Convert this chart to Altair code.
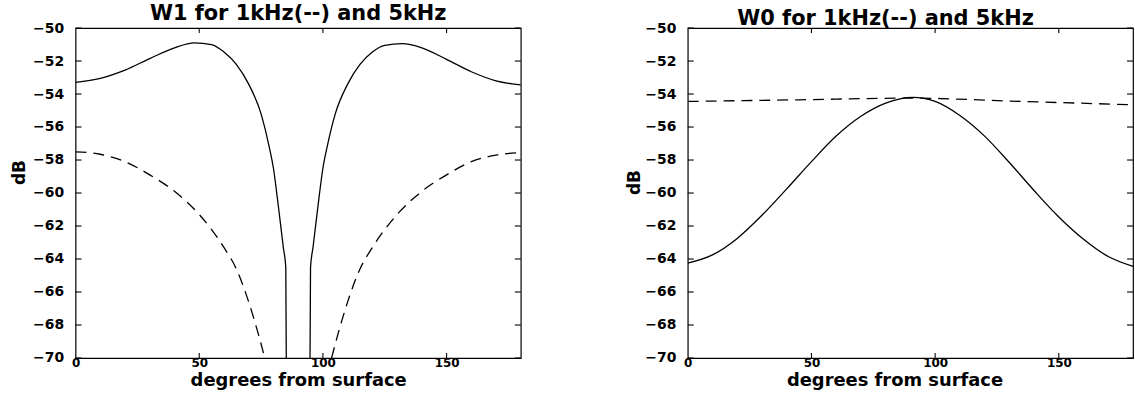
import altair as alt
import pandas as pd

# ---------------- data ----------------
# Left panel: W1
w1_5k_left_deg = [0, 10, 20, 30, 40, 48, 55, 60, 65, 70, 75, 78, 80, 82, 84, 85, 85.2]
w1_5k_left_db = [-53.3, -53.05, -52.55, -51.85, -51.2, -50.9, -51.0, -51.45, -52.2, -53.4,
                 -55.2, -57.0, -58.5, -60.8, -63.3, -64.5, -70]
w1_5k_right_deg = [94.8, 95, 96, 98, 100, 102, 105, 110, 115, 120, 125, 132, 140, 150, 160, 170, 180]
w1_5k_right_db = [-70, -64.5, -63.3, -60.8, -58.5, -57.0, -55.2, -53.4, -52.2, -51.45, -51.05,
                  -50.95, -51.2, -51.9, -52.65, -53.2, -53.45]

w1_1k_left_deg = [0, 10, 20, 30, 40, 50, 60, 65, 70, 74, 76.5]
w1_1k_left_db = [-57.5, -57.65, -58.1, -58.9, -59.9, -61.3, -63.3, -64.6, -66.6, -68.6, -70]
w1_1k_right_deg = [103.5, 106, 110, 115, 120, 130, 140, 150, 160, 170, 180]
w1_1k_right_db = [-70, -68.6, -66.6, -64.6, -63.3, -61.3, -59.9, -58.9, -58.1, -57.7, -57.55]

# Right panel: W0
w0_5k_deg = [0, 10, 20, 30, 40, 50, 60, 70, 80, 91, 100, 110, 120, 130, 140, 150, 160, 170, 180]
w0_5k_db = [-64.25, -63.75, -62.75, -61.35, -59.75, -58.1, -56.55, -55.35, -54.55, -54.2, -54.45,
            -55.3, -56.55, -58.15, -59.85, -61.45, -62.8, -63.85, -64.45]
w0_1k_deg = [0, 45, 90, 135, 180]
w0_1k_db = [-54.45, -54.35, -54.25, -54.45, -54.65]

x_label_values = [0, 50, 100, 150]
x_tick_values = [50, 100, 150]
y_tick_values = [-70, -68, -66, -64, -62, -60, -58, -56, -54, -52, -50]

title_left = "W1 for 1kHz(--) and 5kHz"
title_right = "W0 for 1kHz(--) and 5kHz"
x_title = "degrees from surface"
y_title = "dB"

# ---------------- styling ----------------
W, H = 448, 332
FONT = "DejaVu Sans"
xs = alt.Scale(domain=[0, 180], nice=False, zero=False)
ys = alt.Scale(domain=[-70, -50], nice=False, zero=False)


def seg_df(pairs):
    rows = []
    for s, (dx, dy) in enumerate(pairs):
        for i, (a, b) in enumerate(zip(dx, dy)):
            rows.append({"deg": a, "db": b, "seg": s, "i": i})
    return pd.DataFrame(rows)


def panel(solid_pairs, dashed_pairs, title_text, title_cx, title_cy, xtitle_x, ytitle_x, ytitle_y):
    xax = alt.Axis(values=x_label_values, title=x_title, ticks=False, domain=False, grid=False,
                   labelPadding=0, labelFont=FONT, labelFontSize=12, labelFontWeight="bold",
                   labelFlush=False, labelColor="black",
                   titleFont=FONT, titleFontSize=18, titleFontWeight="bold", titlePadding=3,
                   titleColor="black", titleX=xtitle_x)
    yax = alt.Axis(values=y_tick_values, title=y_title, ticks=False, domain=False, grid=False,
                   labelPadding=12, labelFont=FONT, labelFontSize=14, labelFontWeight="bold",
                   labelFlush=False, labelColor="black",
                   titleFont=FONT, titleFontSize=17, titleFontWeight="bold", titleColor="black",
                   titleAngle=270, titleAlign="center", titleBaseline="middle",
                   titleX=ytitle_x, titleY=ytitle_y)

    solid = alt.Chart(seg_df(solid_pairs)).mark_line(
        color="black", strokeWidth=1.3, clip=True, interpolate="monotone"
    ).encode(
        x=alt.X("deg:Q", scale=xs, axis=xax),
        y=alt.Y("db:Q", scale=ys, axis=yax),
        detail="seg:N",
        order="i:Q",
    )
    dashed = alt.Chart(seg_df(dashed_pairs)).mark_line(
        color="black", strokeWidth=1.3, clip=True, interpolate="monotone", strokeDash=[11, 7]
    ).encode(
        x=alt.X("deg:Q", scale=xs, axis=xax),
        y=alt.Y("db:Q", scale=ys, axis=yax),
        detail="seg:N",
        order="i:Q",
    )
    ytk = pd.DataFrame({"deg": [0] * len(y_tick_values), "db": y_tick_values})
    xtk = pd.DataFrame({"deg": x_tick_values, "db": [-70] * len(x_tick_values)})
    rule = dict(color="black", strokeWidth=1.1)
    tk_left = alt.Chart(ytk).mark_rule(**rule).encode(
        y=alt.Y("db:Q", scale=ys, axis=yax), x=alt.value(0), x2=alt.value(6))
    tk_right = alt.Chart(ytk).mark_rule(**rule).encode(
        y=alt.Y("db:Q", scale=ys, axis=yax), x=alt.value(W - 6), x2=alt.value(W))
    tk_bottom = alt.Chart(xtk).mark_rule(**rule).encode(
        x=alt.X("deg:Q", scale=xs, axis=xax), y=alt.value(H - 5), y2=alt.value(H))
    tk_top = alt.Chart(xtk).mark_rule(**rule).encode(
        x=alt.X("deg:Q", scale=xs, axis=xax), y=alt.value(0), y2=alt.value(5))
    ttl = alt.Chart(pd.DataFrame({"t": [title_text]})).mark_text(
        font=FONT, fontSize=21, fontWeight="bold", align="center", baseline="middle", color="black"
    ).encode(text="t:N", x=alt.value(title_cx), y=alt.value(title_cy))
    return alt.layer(solid, dashed, tk_left, tk_right, tk_bottom, tk_top, ttl).properties(
        width=W, height=H)


left = panel(
    [(w1_5k_left_deg, w1_5k_left_db), (w1_5k_right_deg, w1_5k_right_db)],
    [(w1_1k_left_deg, w1_1k_left_db), (w1_1k_right_deg, w1_1k_right_db)],
    title_left, 224, -14, 224, -56, 145,
)
right = panel(
    [(w0_5k_deg, w0_5k_db)],
    [(w0_1k_deg, w0_1k_db)],
    title_right, 199, -9, 208, -54, 155,
)

chart = alt.hconcat(left, right, spacing=102).properties(
    padding={"left": 10, "top": 1, "right": 0, "bottom": 0},
    background="white",
).configure_view(stroke="black", strokeWidth=1.2)

chart.save("out.html", embed_options={"renderer": "svg", "actions": False})
